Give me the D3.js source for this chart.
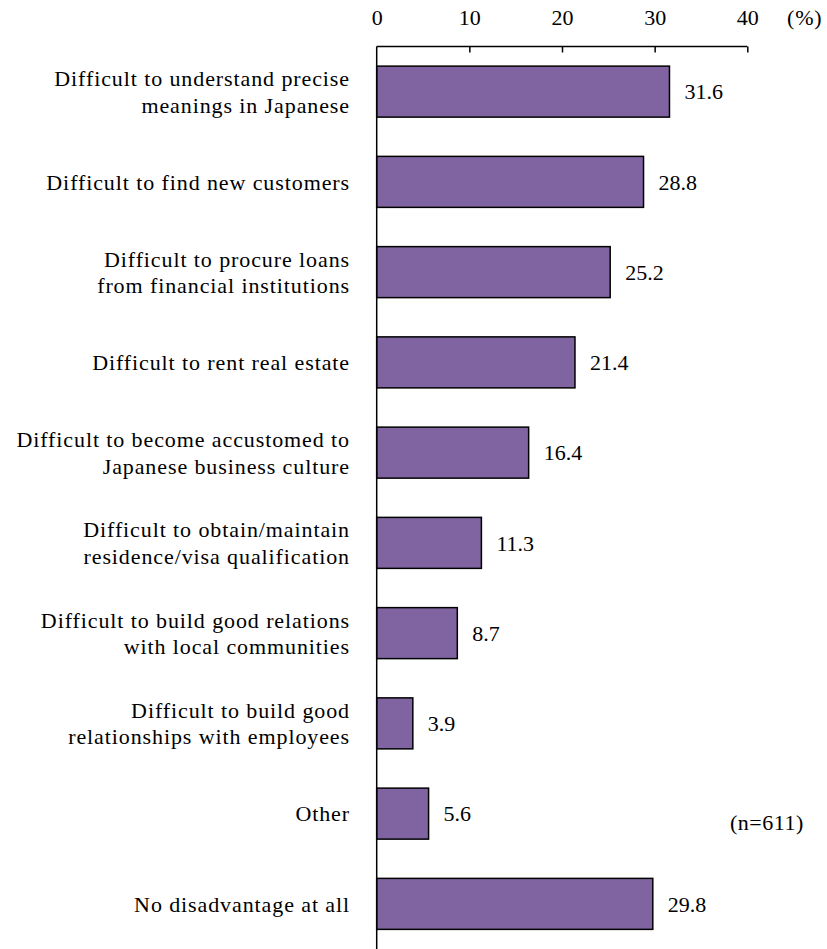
<!DOCTYPE html>
<html>
<head>
<meta charset="utf-8">
<script src="https://cdn.jsdelivr.net/npm/d3@7"></script>
<style>
  html, body { margin: 0; padding: 0; background: #ffffff; }
  svg { display: block; }
</style>
</head>
<body>
<svg id="chart" width="827" height="949"></svg>
<script>
// Survey answers: disadvantages of doing business in Japan (multiple answers, %)
const categories = [
  ["Difficult to understand precise", "meanings in Japanese"],
  ["Difficult to find new customers"],
  ["Difficult to procure loans", "from financial institutions"],
  ["Difficult to rent real estate"],
  ["Difficult to become accustomed to", "Japanese business culture"],
  ["Difficult to obtain/maintain", "residence/visa qualification"],
  ["Difficult to build good relations", "with local communities"],
  ["Difficult to build good", "relationships with employees"],
  ["Other"],
  ["No disadvantage at all"]
];
const values = [31.6, 28.8, 25.2, 21.4, 16.4, 11.3, 8.7, 3.9, 5.6, 29.8];
const tickValues = [0, 10, 20, 30, 40];
const unitLabel = "(%)";
const sampleNote = "(n=611)";

const FONT = '"Liberation Serif"';
const FONT_SIZE = "22px";

const svg = d3.select("#chart");

const plotLeft = 376.7, plotRight = 747.3, plotTop = 46.5, plotBottom = 949;
const keys = categories.map((c, i) => i);

const x = d3.scaleLinear().domain([0, 40]).range([plotLeft, plotRight]);
const y = d3.scaleBand()
  .domain(keys)
  .range([plotTop, plotBottom])
  .paddingInner(0.435)
  .paddingOuter(0.2175);

function styleText(sel) {
  return sel.style("font-family", FONT).style("font-size", FONT_SIZE).style("fill", "#000");
}

// Bars
svg.append("g")
  .selectAll("rect")
  .data(values)
  .join("rect")
  .attr("x", x(0))
  .attr("y", (d, i) => y(i))
  .attr("width", d => x(d) - x(0))
  .attr("height", y.bandwidth())
  .attr("fill", "#8064a2")
  .attr("stroke", "#000")
  .attr("stroke-width", 1.5);

// Top value axis
const xAxis = d3.axisTop(x)
  .tickValues(tickValues)
  .tickSize(-6)
  .tickPadding(21.5)
  .tickFormat(d3.format("d"));

const gx = svg.append("g")
  .attr("transform", `translate(0,${plotTop})`)
  .call(xAxis)
  .attr("font-family", null)
  .attr("font-size", null);
gx.select(".domain").attr("stroke", "#000").attr("stroke-width", 1.5)
  .attr("d", `M${plotLeft},0H${plotRight}`);
gx.selectAll(".tick line").attr("stroke", "#000").attr("stroke-width", 1.5);
gx.selectAll(".tick").filter(d => d === 0).select("line").remove();
styleText(gx.selectAll(".tick text"));

// Category axis line
svg.append("line")
  .attr("x1", x(0)).attr("x2", x(0))
  .attr("y1", plotTop).attr("y2", plotBottom)
  .attr("stroke", "#000").attr("stroke-width", 1.5);

// Unit label
styleText(svg.append("text"))
  .attr("x", 787).attr("y", 25)
  .style("letter-spacing", "0.8px")
  .text(unitLabel);

// Category labels
const lineGap = 26.5;
const catG = svg.append("g");
categories.forEach((lines, i) => {
  const cy = y(i) + y.bandwidth() / 2;
  const t = styleText(catG.append("text"))
    .attr("text-anchor", "end")
    .style("letter-spacing", "0.9px");
  lines.forEach((line, j) => {
    t.append("tspan")
      .attr("x", 350)
      .attr("y", cy + (j - (lines.length - 1) / 2) * lineGap)
      .attr("dy", "0.35em")
      .text(line);
  });
});

// Value labels
styleText(
  svg.append("g")
    .selectAll("text")
    .data(values)
    .join("text")
)
  .attr("x", d => x(d) + 15)
  .attr("y", (d, i) => y(i) + y.bandwidth() / 2)
  .attr("dy", "0.35em")
  .text(d => d.toFixed(1));

// Sample size note
styleText(svg.append("text"))
  .attr("x", 730).attr("y", 830)
  .style("letter-spacing", "0.5px")
  .text(sampleNote);
</script>
</body>
</html>
